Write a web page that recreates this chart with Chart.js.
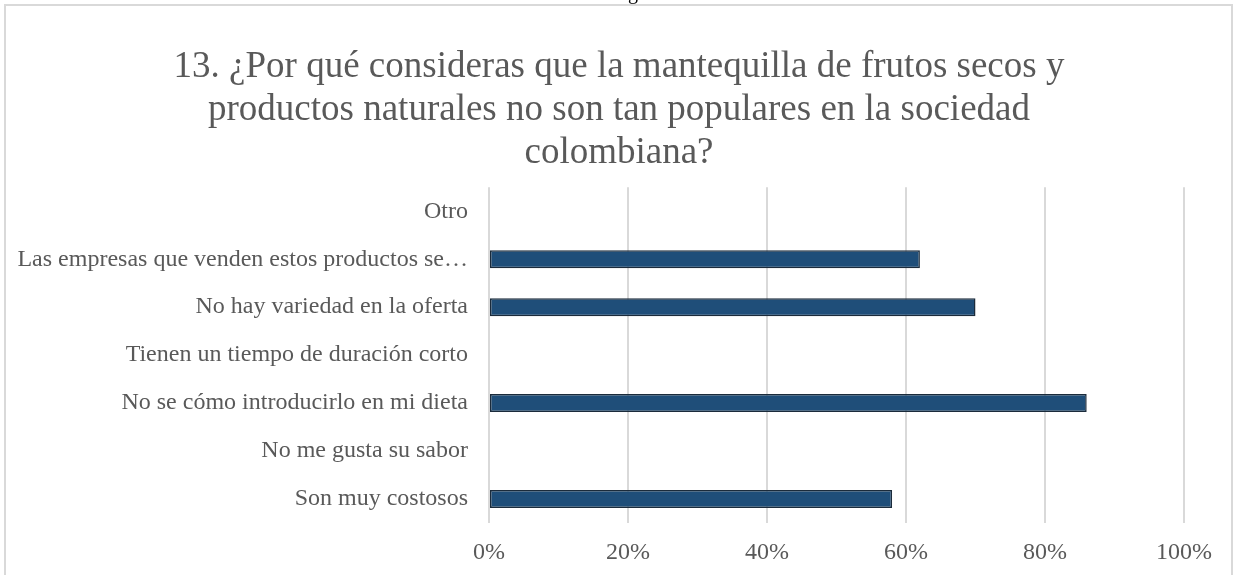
<!DOCTYPE html>
<html>
<head>
<meta charset="utf-8">
<script src="https://cdn.jsdelivr.net/npm/chart.js@4.4.0/dist/chart.umd.min.js"></script>
<style>
  html, body { margin: 0; padding: 0; background: #fff; overflow: hidden; }
  #wrap { position: absolute; left: 0; top: 0; width: 1238px; height: 575px; }
  #c { display: block; }
  #frame { position: absolute; left: 4px; top: 4px; width: 1229px; height: 600px; border: 2px solid #d9d9d9; box-sizing: border-box; pointer-events: none; }
  #cut { position: absolute; left: 628px; top: -19px; font: 20px "Liberation Serif", serif; color: #000; }
</style>
</head>
<body>
<div id="wrap">
  <canvas id="c" width="1238" height="575"></canvas>
  <div id="frame"></div>
  <div id="cut">g</div>
</div>
<script>
const titleLines = [
  "13. ¿Por qué consideras que la mantequilla de frutos secos y",
  "productos naturales no son tan populares en la sociedad",
  "colombiana?"
];
const categories = [
  "Otro",
  "Las empresas que venden estos productos se…",
  "No hay variedad en la oferta",
  "Tienen un tiempo de duración corto",
  "No se cómo introducirlo en mi dieta",
  "No me gusta su sabor",
  "Son muy costosos"
];
const values = [0, 62, 70, 0, 86, 0, 58];
const xTicks = [0, 20, 40, 60, 80, 100];

const txt = '#595959';
const serif = '"Liberation Serif", "Times New Roman", serif';

new Chart(document.getElementById('c'), {
  type: 'bar',
  data: {
    labels: categories,
    datasets: [{
      data: values,
      backgroundColor: '#1F4E79',
      borderColor: '#1b2b3b',
      borderWidth: 1.5,
      borderSkipped: false,
      categoryPercentage: 1,
      barPercentage: 0.375
    }]
  },
  options: {
    indexAxis: 'y',
    responsive: false,
    animation: false,
    layout: { padding: { left: 0, right: 0, top: 0, bottom: 0 } },
    plugins: {
      legend: { display: false },
      tooltip: { enabled: false },
      title: {
        display: true,
        text: titleLines,
        color: txt,
        font: { family: serif, size: 37, weight: 'normal', lineHeight: 1.165 },
        padding: { top: 46, bottom: 12 }
      }
    },
    scales: {
      x: {
        min: 0, max: 100,
        afterBuildTicks: s => { s.ticks = xTicks.map(v => ({ value: v })); },
        afterFit: s => { s.height = 52; },
        grid: { color: '#d9d9d9', lineWidth: 2, drawTicks: false },
        border: { display: false },
        ticks: {
          color: txt,
          padding: 18,
          font: { family: serif, size: 24, lineHeight: 1.0 },
          callback: v => v + '%'
        }
      },
      y: {
        grid: { display: false },
        border: { display: false },
        afterFit: s => { s.width = 489; },
        ticks: {
          color: txt,
          padding: 13,
          font: { family: serif, size: 24 }
        }
      },
      yRight: {
        type: 'linear',
        position: 'right',
        grid: { display: false },
        border: { display: false },
        ticks: { display: false },
        afterFit: s => { s.width = 54; }
      }
    }
  }
});
</script>
</body>
</html>
